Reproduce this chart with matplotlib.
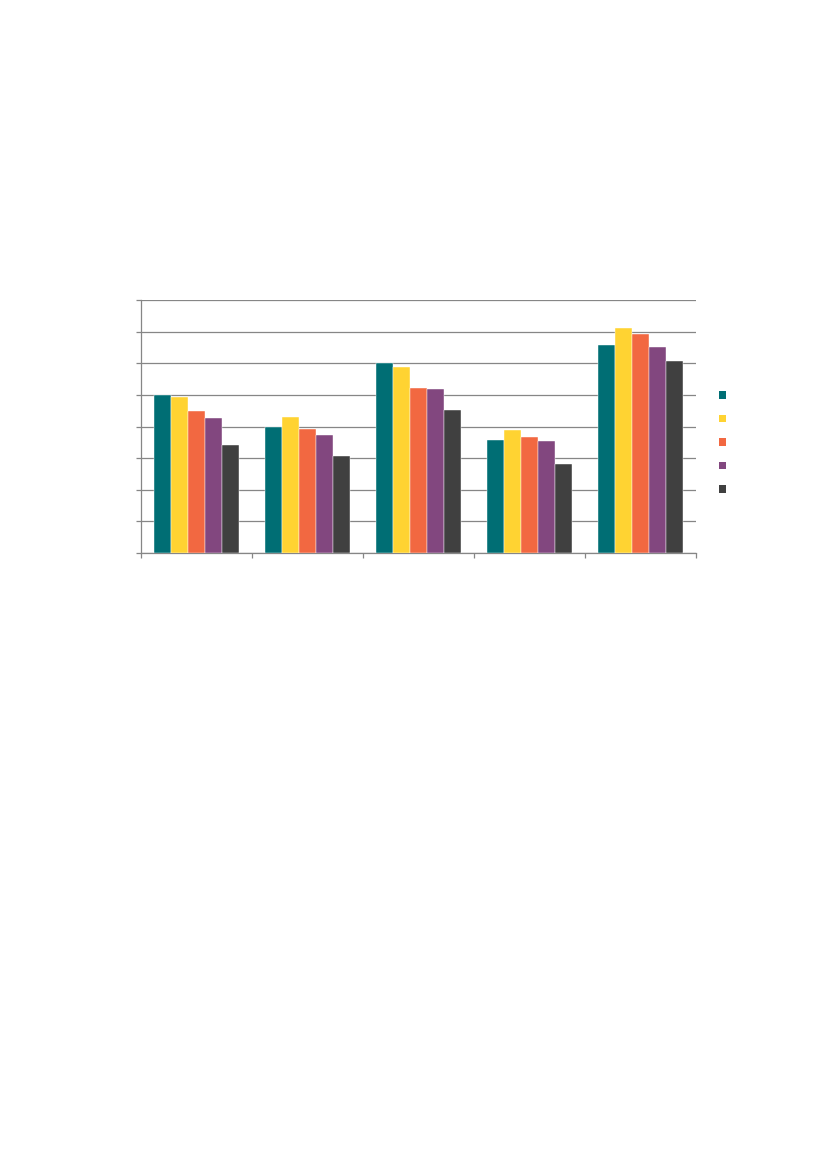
import matplotlib
matplotlib.use("Agg")
import matplotlib.pyplot as plt
import numpy as np
from matplotlib.patches import Patch

# values (no axis labels in the reference)
categories = ["", "", "", "", ""]
series_names = ["", "", "", "", ""]
s1 = [5.00, 4.00, 6.01, 3.57, 6.58]
s2 = [4.94, 4.30, 5.89, 3.89, 7.12]
s3 = [4.50, 3.92, 5.22, 3.68, 6.93]
s4 = [4.27, 3.74, 5.19, 3.55, 6.52]
s5 = [3.43, 3.07, 4.53, 2.82, 6.08]
colors = ["#006e74", "#ffd332", "#f26841", "#82477f", "#404040"]

grey = "#868686"
fig = plt.figure(figsize=(8.27, 11.69), dpi=100)
ax = fig.add_axes([141 / 827, 1 - 553 / 1169, 555 / 827, 253 / 1169])

x = np.arange(len(categories)) + 0.5
w = 0.153
for i, vals in enumerate([s1, s2, s3, s4, s5]):
    ax.bar(x + (i - 2) * w, vals, width=w, color=colors[i],
           edgecolor="white", linewidth=0.3, zorder=3)

ax.set_xlim(0, 5)
ax.set_ylim(0, 8)
ax.set_yticks(np.arange(0, 9))
ax.set_xticks(np.arange(0, 6))
ax.set_xticklabels([])
ax.set_yticklabels([])
ax.yaxis.grid(True, color=grey, linewidth=0.9)
ax.set_axisbelow(True)
ax.tick_params(axis="both", direction="out", length=3.5, width=0.9, color=grey)
for side in ["top", "right"]:
    ax.spines[side].set_visible(False)
for side in ["left", "bottom"]:
    ax.spines[side].set_color(grey)
    ax.spines[side].set_linewidth(0.9)

handles = [Patch(facecolor=c) for c in colors]
fig.legend(handles, series_names, loc="center left",
           bbox_to_anchor=(719 / 827, 1 - 443 / 1169), frameon=False,
           fontsize=9, handlelength=0.56, handleheight=0.56,
           labelspacing=0.84, borderpad=0, borderaxespad=0, handletextpad=0.5)

fig.savefig("out.png", dpi=100)
